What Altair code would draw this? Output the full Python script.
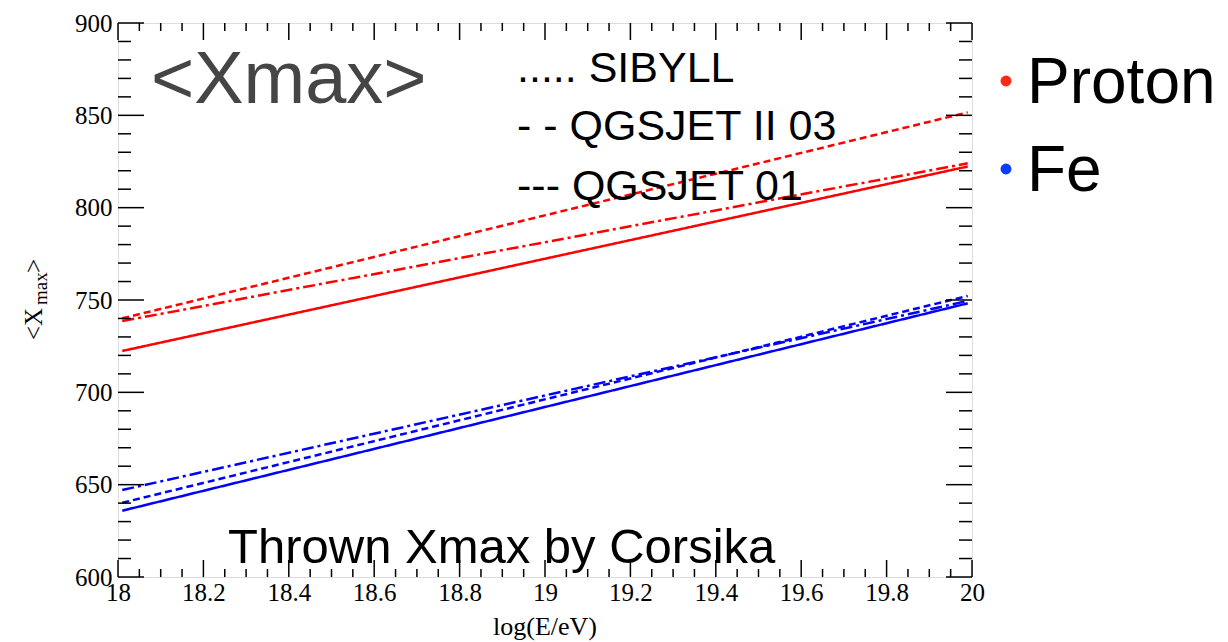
import altair as alt
import pandas as pd

# ---- data ----
log_e = [18.01, 19.99]
models = ["SIBYLL", "QGSJET II 03", "QGSJET 01"]
proton_sibyll = [740.1, 851.6]
proton_qgsjet2 = [738.6, 824.0]
proton_qgsjet01 = [722.4, 822.3]
fe_sibyll = [640.2, 752.2]
fe_qgsjet2 = [647.1, 749.5]
fe_qgsjet01 = [635.9, 748.2]

x_major = [18.0, 18.2, 18.4, 18.6, 18.8, 19.0, 19.2, 19.4, 19.6, 19.8, 20.0]
x_minor = [round(18.0 + 0.05 * i, 2) for i in range(41)]
y_major = [600, 650, 700, 750, 800, 850, 900]
y_minor = [600 + 10 * i for i in range(31)]

series = {
    ("Proton", "SIBYLL"): proton_sibyll,
    ("Proton", "QGSJET II 03"): proton_qgsjet2,
    ("Proton", "QGSJET 01"): proton_qgsjet01,
    ("Fe", "SIBYLL"): fe_sibyll,
    ("Fe", "QGSJET II 03"): fe_qgsjet2,
    ("Fe", "QGSJET 01"): fe_qgsjet01,
}
rows = []
for (particle, model), vals in series.items():
    for x, v in zip(log_e, vals):
        rows.append({"logE": x, "xmax": v, "particle": particle, "model": model,
                     "key": particle + "|" + model})
df = pd.DataFrame(rows)

W, H = 854, 554
xscale = alt.Scale(domain=[18, 20], nice=False, zero=False)
yscale = alt.Scale(domain=[600, 900], nice=False, zero=False)
xaxis = alt.Axis(values=x_major, format=".1~f", ticks=False, domain=False, grid=False,
                 labelFont="Liberation Serif", labelFontSize=25, labelColor="black",
                 labelPadding=3, labelFlush=False, labelOverlap=False, title=None)
yaxis = alt.Axis(values=y_major, ticks=False, domain=False, grid=False,
                 labelFont="Liberation Serif", labelFontSize=25, labelColor="black",
                 labelPadding=6, labelFlush=False, labelOverlap=False, title=None)

lines = alt.Chart(df).mark_line(strokeWidth=2.5, clip=True).encode(
    x=alt.X("logE:Q", scale=xscale, axis=xaxis),
    y=alt.Y("xmax:Q", scale=yscale, axis=yaxis),
    color=alt.Color("particle:N", scale=alt.Scale(domain=["Proton", "Fe"], range=["#ff0000", "#0000ff"]), legend=None),
    strokeDash=alt.StrokeDash("model:N", scale=alt.Scale(domain=models, range=[[7, 4], [12, 4, 3, 4], [1, 0]]), legend=None),
    detail="key:N",
)

xmaj = pd.DataFrame({"v": x_major})
xmin = pd.DataFrame({"v": [v for v in x_minor if all(abs(v - m) > 1e-6 for m in x_major)]})
ymaj = pd.DataFrame({"v": y_major})
ymin = pd.DataFrame({"v": [v for v in y_minor if v not in y_major]})

def xticks(d, y0, y1):
    return alt.Chart(d).mark_rule(color="black", strokeWidth=1.5).encode(
        x=alt.X("v:Q", scale=xscale, axis=xaxis), y=alt.value(y0), y2=alt.value(y1))

def yticks(d, x0, x1):
    return alt.Chart(d).mark_rule(color="black", strokeWidth=1.5).encode(
        y=alt.Y("v:Q", scale=yscale, axis=yaxis), x=alt.value(x0), x2=alt.value(x1))

ticks = [
    xticks(xmaj, H, H - 17), xticks(xmin, H, H - 8),
    xticks(xmaj, 0, 17), xticks(xmin, 0, 8),
    yticks(ymaj, 0, 26), yticks(ymin, 0, 13),
    yticks(ymaj, W, W - 26), yticks(ymin, W, W - 13),
]

def label(text, x, y, size, font="Liberation Sans", color="black", angle=0, align="left", baseline="alphabetic"):
    return alt.Chart(pd.DataFrame({"t": [text]})).mark_text(
        font=font, fontSize=size, color=color, angle=angle, align=align, baseline=baseline
    ).encode(x=alt.value(x), y=alt.value(y), text="t:N")

texts = [
    label("<Xmax>", 33, 80, 74, color="#454545"),
    label("..... SIBYLL", 399, 59, 43),
    label("- - QGSJET II 03", 399, 117, 43),
    label("--- QGSJET 01", 399, 177, 43),
    label("Thrown Xmax by Corsika", 110, 540, 49),
    label("Proton", 909, 80, 64),
    label("Fe", 909, 168, 64),
    label("log(E/eV)", 427, 612, 26, font="Liberation Serif", align="center"),
    label("<X", -76, 317, 25, font="Liberation Serif", angle=270),
    label("max", -71, 282, 19, font="Liberation Serif", angle=270),
    label(">", -76, 250, 25, font="Liberation Serif", angle=270),
]

def dot(color, x, y):
    return alt.Chart(pd.DataFrame({"d": [0]})).mark_circle(size=120, color=color, opacity=1).encode(
        x=alt.value(x), y=alt.value(y))

dots = [dot("#ff2a14", 888, 58), dot("#0a3cff", 888, 146)]

chart = alt.layer(lines, *ticks, *texts, *dots).properties(
    width=W, height=H,
    autosize=alt.AutoSizeParams(type="none"),
    padding={"left": 118, "top": 23, "right": 256, "bottom": 65},
).configure_view(stroke="black", strokeWidth=2).configure(background="white")

chart.save("out.html", embed_options={"renderer": "svg", "actions": False})
